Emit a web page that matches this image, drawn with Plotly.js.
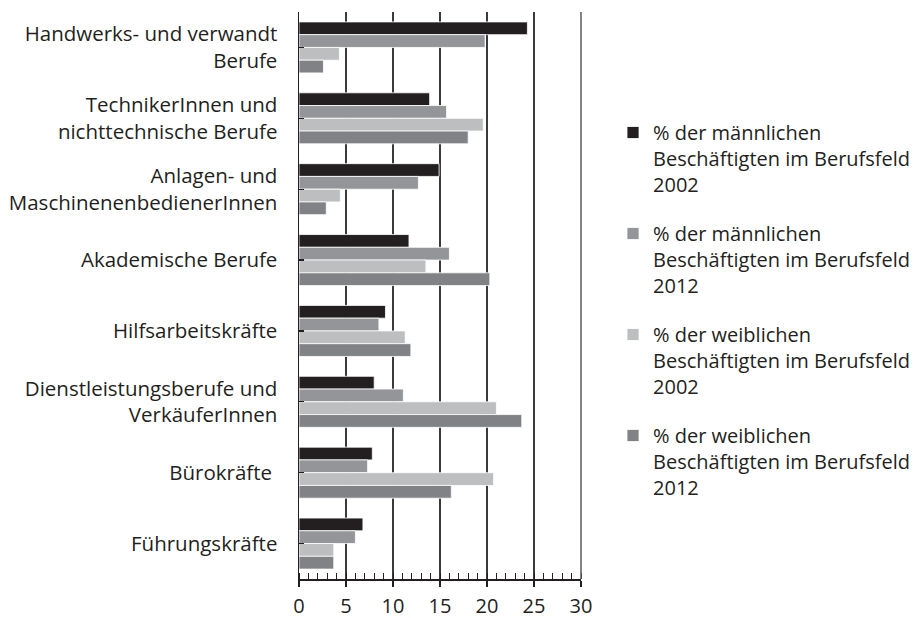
<!DOCTYPE html>
<html>
<head>
<meta charset="utf-8">
<script src="https://cdn.plot.ly/plotly-3.0.1.min.js"></script>
<style>html,body{margin:0;padding:0;background:#fff;}#chart{width:921px;height:618px;}</style>
</head>
<body>
<div id="chart"></div>
<script>
const categories = [
  'Handwerks- und verwandt<br>Berufe',
  'TechnikerInnen und<br>nichttechnische Berufe',
  'Anlagen- und<br>MaschinenenbedienerInnen',
  'Akademische Berufe',
  'Hilfsarbeitskräfte',
  'Dienstleistungsberufe und<br>VerkäuferInnen',
  'Bürokräfte\u00a0',
  'Führungskräfte'
];
const seriesNames = [
  '% der männlichen<br>Beschäftigten im Berufsfeld<br>2002',
  '% der männlichen<br>Beschäftigten im Berufsfeld<br>2012',
  '% der weiblichen<br>Beschäftigten im Berufsfeld<br>2002',
  '% der weiblichen<br>Beschäftigten im Berufsfeld<br>2012'
];
const male2002   = [24.3, 13.9, 14.9, 11.7, 9.2, 8.0, 7.8, 6.8];
const male2012   = [19.8, 15.7, 12.7, 16.0, 8.5, 11.1, 7.3, 6.0];
const female2002 = [4.3, 19.6, 4.4, 13.5, 11.3, 21.0, 20.7, 3.7];
const female2012 = [2.6, 18.0, 2.9, 20.3, 11.9, 23.7, 16.2, 3.7];
const xTicks = [0, 5, 10, 15, 20, 25, 30];

const colors = ['#231f20', '#939598', '#bcbec0', '#808285'];
const values = [male2002, male2012, female2002, female2012];
const FONT = 'Open Sans, sans-serif';
const TXT = '#231f20';
const X_MAX = xTicks[xTicks.length - 1];

const traces = values.map((v, i) => ({
  type: 'bar',
  orientation: 'h',
  x: v,
  y: categories,
  name: seriesNames[i],
  legendgroup: 'g' + i,
  marker: {color: colors[i], line: {color: '#ffffff', width: 0.8}},
  hoverinfo: 'x+name'
}));

// tick positions for overlay axis (category centers and boundaries)
const yTickPos = [];
for (let k = -0.5; k <= categories.length - 0.5 + 1e-9; k += 0.5) yTickPos.push(k);

const layout = {
  width: 921, height: 618,
  margin: {l: 299, r: 340, t: 12, b: 39},
  paper_bgcolor: '#ffffff', plot_bgcolor: '#ffffff',
  barmode: 'group', bargap: 0.28, bargroupgap: 0,
  font: {family: FONT, size: 20, color: TXT},
  showlegend: true,
  xaxis: {
    range: [0, X_MAX], tickmode: 'array', tickvals: xTicks, ticktext: xTicks.map(String),
    ticks: 'outside', ticklen: 6, tickwidth: 1.2, tickcolor: TXT,
    minor: {dtick: 1, tick0: 0, ticks: 'inside', ticklen: 6, tickwidth: 1, tickcolor: TXT, showgrid: false},
    showgrid: true, gridcolor: '#3a3a3a', gridwidth: 1.3,
    showline: true, linecolor: TXT, linewidth: 1.5, zeroline: false,
    tickfont: {family: FONT, size: 20, color: TXT}, ticklabelstandoff: 2,
    fixedrange: true
  },
  xaxis2: {
    overlaying: 'x', anchor: 'y', side: 'bottom', range: [0, X_MAX],
    tickmode: 'linear', tick0: 0, dtick: 1, ticks: 'outside', ticklen: 5, tickwidth: 1, tickcolor: TXT,
    showticklabels: false, showgrid: false, zeroline: false, showline: false
  },
  yaxis: {
    type: 'category', categoryorder: 'array', categoryarray: categories, autorange: 'reversed',
    ticks: 'inside', ticklen: 5, tickwidth: 1.2, tickcolor: TXT,
    showline: true, linecolor: TXT, linewidth: 1.5, showgrid: false, zeroline: false,
    tickfont: {family: FONT, size: 20.5, color: TXT}, ticklabelstandoff: 16,
    fixedrange: true
  },
  yaxis2: {
    overlaying: 'y', anchor: 'x', side: 'left', range: [categories.length - 0.5, -0.5],
    tickmode: 'array', tickvals: yTickPos, ticks: 'outside', ticklen: 7, tickwidth: 1.2, tickcolor: TXT,
    showticklabels: false, showgrid: false, zeroline: false, showline: false
  },
  shapes: [{
    type: 'line', xref: 'paper', yref: 'paper', x0: 1, x1: 1, y0: 0, y1: 1,
    line: {color: '#5a5a5a', width: 1.5}, layer: 'above'
  }],
  legend: {
    xref: 'container', yref: 'container', x: 0.6656, y: 1 - 113 / 618,
    xanchor: 'left', yanchor: 'top', valign: 'top',
    traceorder: 'grouped', tracegroupgap: 20, itemwidth: 30, maxheight: 600,
    font: {family: FONT, size: 20, color: TXT}, bgcolor: 'rgba(0,0,0,0)'
  }
};

Plotly.newPlot('chart', traces, layout, {displayModeBar: false, staticPlot: true});
</script>
</body>
</html>
